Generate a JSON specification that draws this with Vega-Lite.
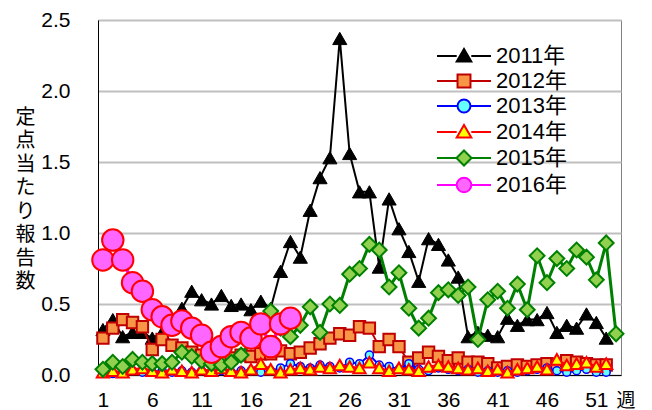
{
  "$schema": "https://vega.github.io/schema/vega-lite/v6.json",
  "width": 523,
  "height": 355,
  "autosize": {"type": "none"},
  "padding": {"left": 98, "top": 20, "right": 31, "bottom": 35},
  "background": "white",
  "config": {
    "view": {"stroke": "#808080", "strokeWidth": 1},
    "axis": {"labelFont": "Liberation Sans", "labelFontSize": 21, "labelColor": "#000", "titleColor": "#000"}
  },
  "datasets": {
    "d2011": [0.32,0.39,0.27,0.30,0.30,0.26,0.30,0.38,0.47,0.59,0.53,0.50,0.56,0.49,0.50,0.46,0.52,0.47,0.73,0.94,0.83,1.16,1.39,1.53,2.37,1.56,1.29,1.29,0.76,1.24,1.03,0.87,0.66,0.96,0.92,0.81,0.69,0.27,0.30,0.28,0.27,0.40,0.35,0.39,0.39,0.44,0.30,0.35,0.33,0.43,0.37,0.26],
    "d2012": [0.26,0.33,0.39,0.37,0.34,0.18,0.25,0.21,0.19,0.16,0.14,0.12,0.13,0.12,0.14,0.13,0.15,0.15,0.17,0.15,0.16,0.19,0.22,0.26,0.29,0.28,0.34,0.33,0.20,0.25,0.20,0.09,0.12,0.16,0.13,0.10,0.12,0.09,0.09,0.08,0.05,0.06,0.07,0.06,0.07,0.08,0.07,0.10,0.09,0.08,0.07,0.07],
    "d2013": [0.02,0.01,0.02,0.03,0.02,0.02,0.03,0.02,0.03,0.02,0.03,0.02,0.03,0.02,0.03,0.03,0.02,0.03,0.05,0.08,0.06,0.05,0.07,0.06,0.05,0.09,0.08,0.14,0.07,0.06,0.04,0.08,0.04,0.03,0.05,0.04,0.03,0.04,0.02,0.03,0.02,0.03,0.02,0.03,0.04,0.05,0.03,0.02,0.03,0.04,0.02,0.02],
    "d2014": [0.02,0.03,0.02,0.04,0.05,0.03,0.02,0.04,0.03,0.02,0.04,0.03,0.05,0.03,0.02,0.04,0.08,0.04,0.02,0.04,0.05,0.04,0.06,0.05,0.07,0.06,0.05,0.09,0.05,0.03,0.05,0.04,0.03,0.06,0.07,0.06,0.05,0.04,0.05,0.03,0.04,0.02,0.04,0.05,0.06,0.04,0.11,0.07,0.08,0.09,0.06,0.08],
    "d2015": [0.04,0.09,0.06,0.11,0.09,0.08,0.08,0.09,0.16,0.13,0.10,0.08,0.07,0.09,0.14,0.24,0.35,0.45,0.33,0.27,0.35,0.48,0.30,0.50,0.49,0.71,0.75,0.92,0.88,0.62,0.72,0.47,0.33,0.40,0.58,0.60,0.56,0.62,0.25,0.53,0.59,0.47,0.64,0.46,0.84,0.65,0.82,0.75,0.88,0.83,0.67,0.93,0.29],
    "d2016": [0.81,0.95,0.81,0.65,0.59,0.46,0.41,0.35,0.38,0.33,0.28,0.16,0.20,0.27,0.30,0.26,0.36,0.20,0.36,0.40]
  },
  "encoding": {
    "x": {
      "field": "week", "type": "quantitative",
      "scale": {"domain": [0.5, 53.5], "nice": false, "zero": false},
      "axis": {
        "values": [1, 6, 11, 16, 21, 26, 31, 36, 41, 46, 51],
        "grid": false, "ticks": false, "tickSize": 0, "labelPadding": 14,
        "domainColor": "#000", "domainWidth": 1, "labelFlush": false,
        "title": "週", "titleFont": "Noto Sans CJK JP", "titleFontSize": 19, "titleFontWeight": "normal",
        "titleX": 518, "titleY": 25, "titleAlign": "left", "titleBaseline": "middle", "titleAnchor": null
      }
    },
    "y": {
      "field": "v", "type": "quantitative",
      "scale": {"domain": [0, 2.5], "nice": false},
      "axis": {
        "values": [0, 0.5, 1, 1.5, 2, 2.5], "format": ".1f",
        "grid": true, "gridColor": "#bfbfbf", "gridWidth": 2,
        "ticks": false, "tickSize": 0, "labelPadding": 28,
        "domainColor": "#000", "domainWidth": 1,
        "title": ["定", "点", "当", "た", "り", "報", "告", "数"],
        "titleFont": "Noto Sans CJK JP", "titleFontSize": 20, "titleFontWeight": "normal",
        "titleAngle": 0, "titleX": -73, "titleY": 87, "titleAlign": "center", "titleBaseline": "top",
        "titleLineHeight": 23.5
      }
    }
  },
  "layer": [
    {
      "data": {"name": "d2011"},
      "transform": [{"window": [{"op": "row_number", "as": "week"}]}, {"calculate": "datum.data", "as": "v"}],
      "mark": {"type": "line", "color": "#000000", "strokeWidth": 2,
        "point": {"shape": "triangle-up", "size": 200, "filled": true, "fill": "#000000", "stroke": "#000000", "strokeWidth": 1, "opacity": 1}}
    },
    {
      "data": {"name": "d2012"},
      "transform": [{"window": [{"op": "row_number", "as": "week"}]}, {"calculate": "datum.data", "as": "v"}],
      "mark": {"type": "line", "color": "#c00000", "strokeWidth": 2,
        "point": {"shape": "square", "size": 130, "filled": true, "fill": "#f79646", "stroke": "#c00000", "strokeWidth": 2, "opacity": 1}}
    },
    {
      "data": {"name": "d2013"},
      "transform": [{"window": [{"op": "row_number", "as": "week"}]}, {"calculate": "datum.data", "as": "v"}],
      "mark": {"type": "line", "color": "#0000ff", "strokeWidth": 2,
        "point": {"shape": "circle", "size": 64, "filled": true, "fill": "#66ffff", "stroke": "#0000ff", "strokeWidth": 1.5, "opacity": 1}}
    },
    {
      "data": {"name": "d2014"},
      "transform": [{"window": [{"op": "row_number", "as": "week"}]}, {"calculate": "datum.data", "as": "v"}],
      "mark": {"type": "line", "color": "#ff0000", "strokeWidth": 2,
        "point": {"shape": "triangle-up", "size": 150, "filled": true, "fill": "#ffff00", "stroke": "#ff0000", "strokeWidth": 2, "opacity": 1}}
    },
    {
      "data": {"name": "d2015"},
      "transform": [{"window": [{"op": "row_number", "as": "week"}]}, {"calculate": "datum.data", "as": "v"}],
      "mark": {"type": "line", "color": "#008000", "strokeWidth": 3,
        "point": {"shape": "diamond", "size": 220, "filled": true, "fill": "#92d050", "stroke": "#008000", "strokeWidth": 2, "opacity": 1}}
    },
    {
      "data": {"name": "d2016"},
      "transform": [{"window": [{"op": "row_number", "as": "week"}]}, {"calculate": "datum.data", "as": "v"}],
      "mark": {"type": "line", "color": "#ff00ff", "strokeWidth": 3.5,
        "point": {"shape": "circle", "size": 460, "filled": true, "fill": "#ff66ff", "stroke": "#ff0000", "strokeWidth": 2, "opacity": 1}}
    },
    {
      "data": {"values": [{"year": "2011年"}, {"year": "2012年"}, {"year": "2013年"}, {"year": "2014年"}, {"year": "2015年"}, {"year": "2016年"}]},
      "transform": [{"filter": "false"}],
      "mark": {"type": "point", "filled": true},
      "encoding": {
        "x": {"value": 0},
        "y": {"value": 0},
        "shape": {
          "field": "year", "type": "nominal",
          "scale": {
            "domain": ["2011年", "2012年", "2013年", "2014年", "2015年", "2016年"],
            "range": [
              "M-3,0H-0.81M0.81,0H3M-0.81,0.6L0,-0.78L0.81,0.6Z",
              "M-3,0H-0.72M0.72,0H3M-0.72,-0.72H0.72V0.72H-0.72Z",
              "M-3,0H-0.72M0.72,0H3M-0.72,0A0.72,0.72,0,1,0,0.72,0A0.72,0.72,0,1,0,-0.72,0Z",
              "M-3,0H-0.81M0.81,0H3M-0.81,0.6L0,-0.78L0.81,0.6Z",
              "M-3,0H-0.84M0.84,0H3M0,-0.84L0.84,0L0,0.84L-0.84,0Z",
              "M-3,0H-0.81M0.81,0H3M-0.81,0A0.81,0.81,0,1,0,0.81,0A0.81,0.81,0,1,0,-0.81,0Z"
            ]
          },
          "legend": {
            "title": null, "orient": "none", "legendX": 355, "legendY": 25, "padding": 0,
            "symbolSize": 324, "symbolStrokeWidth": 2, "symbolOpacity": 1,
            "labelFont": "Liberation Sans, Noto Sans CJK JP", "labelFontSize": 22, "labelColor": "#000",
            "labelOffset": 21, "rowPadding": 3, "labelLimit": 200
          }
        },
        "fill": {
          "field": "year", "type": "nominal",
          "scale": {"domain": ["2011年", "2012年", "2013年", "2014年", "2015年", "2016年"],
            "range": ["#000000", "#f79646", "#66ffff", "#ffff00", "#92d050", "#ff66ff"]},
          "legend": {
            "title": null, "orient": "none", "legendX": 355, "legendY": 25, "padding": 0,
            "symbolSize": 324, "symbolStrokeWidth": 2, "symbolOpacity": 1,
            "labelFont": "Liberation Sans, Noto Sans CJK JP", "labelFontSize": 22, "labelColor": "#000",
            "labelOffset": 21, "rowPadding": 3, "labelLimit": 200
          }
        },
        "stroke": {
          "field": "year", "type": "nominal",
          "scale": {"domain": ["2011年", "2012年", "2013年", "2014年", "2015年", "2016年"],
            "range": ["#000000", "#c00000", "#0000ff", "#ff0000", "#008000", "#ff00ff"]},
          "legend": {
            "title": null, "orient": "none", "legendX": 355, "legendY": 25, "padding": 0,
            "symbolSize": 324, "symbolStrokeWidth": 2, "symbolOpacity": 1,
            "labelFont": "Liberation Sans, Noto Sans CJK JP", "labelFontSize": 22, "labelColor": "#000",
            "labelOffset": 21, "rowPadding": 3, "labelLimit": 200
          }
        }
      }
    }
  ]
}
